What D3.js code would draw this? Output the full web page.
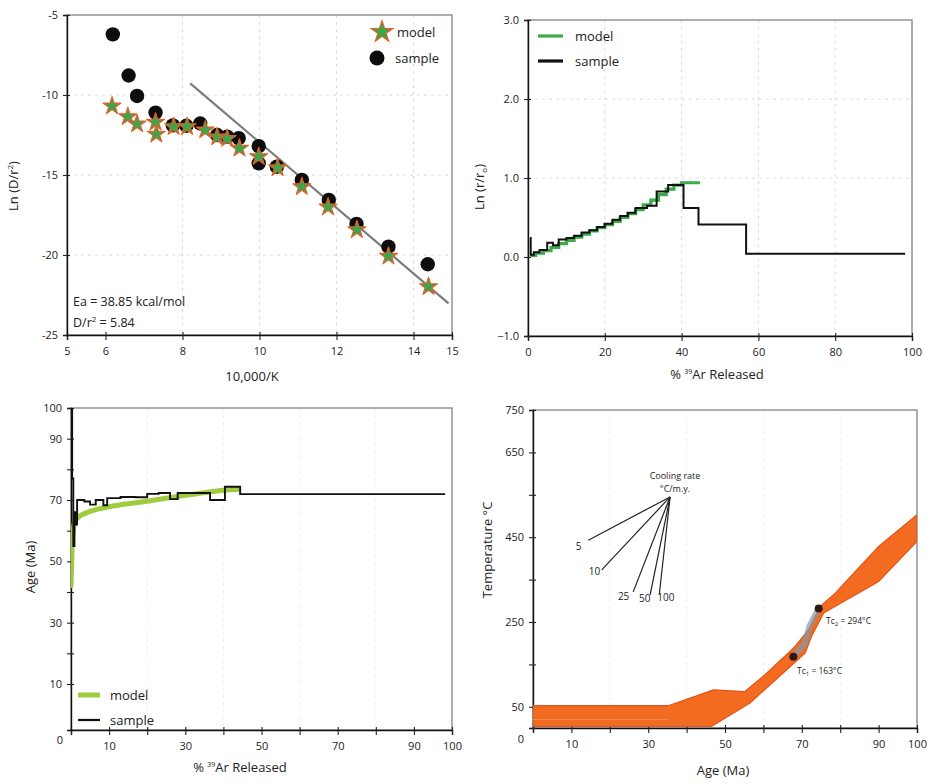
<!DOCTYPE html>
<html><head><meta charset="utf-8">
<script src="https://cdn.jsdelivr.net/npm/d3@7"></script>
<style>
body{margin:0;background:#fff}
svg{display:block}
text{font-family:"Open Sans","Noto Sans",sans-serif;fill:#222}
</style>
</head><body>
<svg width="931" height="784"></svg>
<script>
// ---------- Panel 1: Arrhenius ----------
const arrModelX  = [6.17,6.58,6.82,7.30,7.32,7.77,8.12,8.59,8.90,9.16,9.48,9.98,10.47,11.10,11.78,12.53,13.35,14.39];
const arrModelY  = [-10.69,-11.35,-11.81,-11.70,-12.45,-11.98,-11.98,-12.19,-12.62,-12.72,-13.33,-13.85,-14.55,-15.73,-17.0,-18.42,-20.08,-21.98];
const arrSampleX = [6.19,6.60,6.82,7.30,7.75,8.10,8.46,8.90,9.16,9.46,9.98,9.98,10.45,11.10,11.80,12.52,13.35,14.37];
const arrSampleY = [-6.21,-8.78,-10.06,-11.10,-11.90,-11.92,-11.78,-12.50,-12.60,-12.70,-13.20,-14.27,-14.48,-15.31,-16.56,-18.06,-19.48,-20.58];
const arrFitX = [8.2,14.91];
const arrFitY = [-9.27,-23.02];
const arrXTicks = [5,6,8,10,12,14,15];
const arrYTicks = [-5,-10,-15,-20,-25];

// ---------- Panel 2: ln(r/r0) ----------
const radModelEdges = [0.5,2,4,6,8,10,12,14,16,18,20,22,24,26,28,30,32,34,36,38,40,44.8];
const radModelVals  = [0.02,0.05,0.08,0.12,0.17,0.21,0.25,0.29,0.33,0.37,0.41,0.45,0.50,0.55,0.60,0.66,0.72,0.79,0.86,0.91,0.94];
const radSampleEdges = [0.5,0.7,1.5,3,5,6.5,8,10,12,14,16,18,20,22,24,26,28,31,33.5,36.5,40.5,44.4,56.8,98.2];
const radSampleVals  = [0.24,0.03,0.06,0.09,0.18,0.15,0.22,0.24,0.27,0.31,0.34,0.38,0.42,0.47,0.52,0.56,0.62,0.65,0.83,0.91,0.62,0.41,0.04];
const radXTicks = [0,20,40,60,80,100];
const radYTicks = [-1,0,1,2,3];

// ---------- Panel 3: age spectrum ----------
const ageModelX = [0,0.3,0.6,1,2,4,7,10,15,20,25,30,35,40,44];
const ageModelY = [42,55,60,63,64.5,65.8,67,67.8,68.8,69.6,70.6,71.5,72.4,73.2,73.5];
const ageSampleEdges = [0,0.3,0.6,0.9,1.2,1.6,3.5,5,6.5,8.5,9.5,13,17,20,23,26,28,36.5,40.4,44.4,98.2];
const ageSampleVals  = [100,77,55,66,62,70,69.5,68.5,70,68.3,70.6,71,70.9,72,72.3,70.3,72.3,70,74.3,71.9];
const ageXTicks = [0,10,20,30,40,50,60,70,80,90,100];
const ageXLabels = [10,30,50,70,90,100];
const ageYTicks = [10,20,30,40,50,60,70,80,90,100];
const ageYLabels = [10,30,50,70,90,100];

// ---------- Panel 4: T-t envelope ----------
const envUpperX = [0,35.2,47,55.2,60.4,67.8,71.7,74.8,78.7,90,100];
const envUpperT = [52.6,52.6,90,86,125.6,188,231,287,318,428,503];
const envLowerX = [0,46.5,56.5,66.5,70.9,72.5,75.7,90,100];
const envLowerT = [4,4,59,141,177,215,271,345.5,440];
const innerX = [0,35];
const innerT = [20,20];
const tcPathX = [67.8,70.8,72.0,74.4];
const tcPathT = [168,200,240,282];
const tcPointX = [67.8,74.4];
const tcPointT = [168,282];
const coolHub = [35.7,545];
const coolEndX = [14.4,17.9,26.1,30.5,32.9];
const coolEndT = [443,373,321,314,316];
const coolLabels = ["5","10","25","50","100"];
const coolLabelX = [11.9,16.0,23.6,29.1,34.6];
const coolLabelT = [420,360,302,298,299];
const ttXTicks = [0,10,20,30,40,50,60,70,80,90,100];
const ttXLabels = [10,30,50,70,90,100];
const ttYTicks = [0,50,150,250,350,450,550,650,750];
const ttYLabels = [0,50,250,450,650,750];

const svg = d3.select("svg");
svg.append("rect").attr("width",931).attr("height",784).attr("fill","#fff");

function makePanel(c){
  const x = d3.scaleLinear().domain(c.xd).range([c.l,c.r]);
  const y = d3.scaleLinear().domain(c.yd).range([c.b,c.t]);
  const g = svg.append("g");
  const grid = g.append("g").attr("stroke",c.gridColor||"#dcdcdc").attr("stroke-dasharray","3,4").attr("stroke-width",1);
  (c.gx||[]).forEach(v=>grid.append("line").attr("x1",x(v)).attr("x2",x(v)).attr("y1",c.t).attr("y2",c.b));
  (c.gy||[]).forEach(v=>grid.append("line").attr("y1",y(v)).attr("y2",y(v)).attr("x1",c.l).attr("x2",c.r));
  g.append("rect").attr("x",c.l).attr("y",c.t).attr("width",c.r-c.l).attr("height",c.b-c.t)
    .attr("fill","none").attr("stroke","#8c8c8c").attr("stroke-width",1.4);
  const xa = g.append("g").attr("transform",`translate(0,${c.b})`)
    .call(d3.axisBottom(x).tickValues(c.xt).tickSize(5).tickPadding(7).tickFormat(d=>c.xl.includes(d)?c.xf(d):""));
  const ya = g.append("g").attr("transform",`translate(${c.l},0)`)
    .call(d3.axisLeft(y).tickValues(c.yt).tickSize(4).tickPadding(5).tickFormat(d=>c.yl.includes(d)?c.yf(d):""));
  [xa,ya].forEach(a=>{
    a.select(".domain").attr("stroke","#111").attr("stroke-width",1.4);
    a.selectAll(".tick line").attr("stroke","#222").attr("stroke-width",1.1);
    a.selectAll(".tick text").attr("font-family",'"Open Sans",sans-serif').attr("font-size",11).attr("fill","#222");
  });
  xa.selectAll(".tick line").attr("y1",-3);
  ya.selectAll(".tick line").attr("x1",3);
  return {x,y,g,xa,ya};
}

const clipId = (name,c)=>{
  svg.append("clipPath").attr("id",name).append("rect").attr("x",c.l).attr("y",c.t).attr("width",c.r-c.l).attr("height",c.b-c.t);
  return `url(#${name})`;
};

function stepPoints(edges, vals){
  const pts=[];
  vals.forEach((v,i)=>{pts.push([edges[i],v]);pts.push([edges[i+1],v]);});
  return pts;
}

// ================= Panel 1 =================
{
  const c={l:67,r:452,t:15,b:335,xd:[5,15],yd:[-25,-5],xt:arrXTicks,xl:arrXTicks,xf:d=>d,yt:arrYTicks,yl:arrYTicks,yf:d=>d,
    gx:[8,10,12,14],gy:[-10,-15,-20]};
  const P=makePanel(c);
  const {x,y,g}=P;
  g.append("line").attr("x1",x(arrFitX[0])).attr("y1",y(arrFitY[0])).attr("x2",x(arrFitX[1])).attr("y2",y(arrFitY[1]))
    .attr("stroke","#7b7b7b").attr("stroke-width",2.2);
  g.selectAll("circle.s").data(arrSampleX).join("circle").attr("class","s")
    .attr("cx",d=>x(d)).attr("cy",(d,i)=>y(arrSampleY[i])).attr("r",7.2).attr("fill","#0d0d0d");
  const star=d3.symbol().type(d3.symbolStar).size(100);
  g.selectAll("path.m").data(arrModelX).join("path").attr("class","m")
    .attr("d",star).attr("transform",(d,i)=>`translate(${x(d)},${y(arrModelY[i])})`)
    .attr("fill","#3fa548").attr("stroke","#ef5a28").attr("stroke-width",1.1).attr("stroke-linejoin","round");
  g.append("path").attr("d",d3.symbol().type(d3.symbolStar).size(150)()).attr("transform","translate(382,32)")
    .attr("fill","#3fa548").attr("stroke","#ef5a28").attr("stroke-width",1.1);
  g.append("text").attr("x",397).attr("y",36.5).attr("font-size",13).text("model");
  g.append("circle").attr("cx",377).attr("cy",58).attr("r",7.5).attr("fill","#0d0d0d");
  g.append("text").attr("x",395).attr("y",62.5).attr("font-size",13).text("sample");
  g.append("text").attr("x",73).attr("y",306).attr("font-size",12.5).text("Ea = 38.85 kcal/mol");
  const t2=g.append("text").attr("x",73).attr("y",327).attr("font-size",12.5);
  t2.append("tspan").text("D/r");
  t2.append("tspan").attr("font-size",8).attr("dy",-5).text("2");
  t2.append("tspan").attr("dy",5).text(" = 5.84");
  g.append("text").attr("x",252).attr("y",381).attr("text-anchor","middle").attr("font-size",13).text("10,000/K");
  const yt=g.append("text").attr("transform","translate(18,186) rotate(-90)").attr("text-anchor","middle").attr("font-size",13);
  yt.append("tspan").text("Ln (D/r");
  yt.append("tspan").attr("font-size",8).attr("dy",-5).text("2");
  yt.append("tspan").attr("dy",5).text(")");
}

// ================= Panel 2 =================
{
  const c={l:528,r:912,t:20,b:336,xd:[0,100],yd:[-1,3],xt:radXTicks,xl:radXTicks,xf:d=>d,yt:radYTicks,yl:radYTicks,yf:d3.format(".1f"),
    gx:[20,40,60,80],gy:[1,2]};
  const P=makePanel(c);
  const {x,y,g}=P;
  const line=d3.line().x(d=>x(d[0])).y(d=>y(d[1]));
  g.append("path").attr("d",line(stepPoints(radModelEdges,radModelVals))).attr("fill","none")
    .attr("stroke","#3daa4a").attr("stroke-width",3.2).attr("stroke-linejoin","miter");
  g.append("path").attr("d",line(stepPoints(radSampleEdges,radSampleVals))).attr("fill","none")
    .attr("stroke","#111").attr("stroke-width",2);
  g.append("line").attr("x1",538).attr("x2",563).attr("y1",36).attr("y2",36).attr("stroke","#3daa4a").attr("stroke-width",3.2);
  g.append("text").attr("x",575).attr("y",40.5).attr("font-size",13).text("model");
  g.append("line").attr("x1",538).attr("x2",563).attr("y1",61).attr("y2",61).attr("stroke","#111").attr("stroke-width",3.2);
  g.append("text").attr("x",575).attr("y",65.5).attr("font-size",13).text("sample");
  const xt=g.append("text").attr("x",717).attr("y",379).attr("text-anchor","middle").attr("font-size",13);
  xt.append("tspan").text("% ");
  xt.append("tspan").attr("font-size",7).attr("dy",-5).text("39");
  xt.append("tspan").attr("dy",5).text("Ar Released");
  const yt=g.append("text").attr("transform","translate(484,187) rotate(-90)").attr("text-anchor","middle").attr("font-size",13);
  yt.append("tspan").text("Ln (r/r");
  yt.append("tspan").attr("font-size",8).attr("dy",3).text("o");
  yt.append("tspan").attr("dy",-3).text(")");
}

// ================= Panel 3 =================
{
  const c={l:71,r:452,t:408,b:730,xd:[0,100],yd:[-5,100],xt:ageXTicks,xl:ageXLabels,xf:d=>d,yt:ageYTicks,yl:ageYLabels,yf:d=>d,
    gx:[20,40,60,80],gy:[],gridColor:"#eeeeee"};
  const P=makePanel(c);
  const {x,y,g}=P;
  const cp=clipId("clip3",c);
  const line=d3.line().x(d=>x(d[0])).y(d=>y(d[1]));
  g.append("path").attr("clip-path",cp).attr("d",d3.line().x(d=>x(d[0])).y(d=>y(d[1])).curve(d3.curveMonotoneX)(ageModelX.map((v,i)=>[v,ageModelY[i]])))
    .attr("fill","none").attr("stroke","#9fcb3c").attr("stroke-width",5).attr("stroke-linecap","round");
  g.append("path").attr("clip-path",cp).attr("d",line(stepPoints(ageSampleEdges,ageSampleVals))).attr("fill","none")
    .attr("stroke","#111").attr("stroke-width",1.9);
  g.append("text").attr("x",63).attr("y",744).attr("text-anchor","end").attr("font-size",11).text("0");
  g.append("line").attr("x1",78).attr("x2",100).attr("y1",695).attr("y2",695).attr("stroke","#9fcb3c").attr("stroke-width",5);
  g.append("text").attr("x",110).attr("y",699.5).attr("font-size",13).text("model");
  g.append("line").attr("x1",78).attr("x2",100).attr("y1",720).attr("y2",720).attr("stroke","#111").attr("stroke-width",2.2);
  g.append("text").attr("x",110).attr("y",724.5).attr("font-size",13).text("sample");
  const xt=g.append("text").attr("x",240).attr("y",772).attr("text-anchor","middle").attr("font-size",13);
  xt.append("tspan").text("% ");
  xt.append("tspan").attr("font-size",7).attr("dy",-5).text("39");
  xt.append("tspan").attr("dy",5).text("Ar Released");
  g.append("text").attr("transform","translate(35,567) rotate(-90)").attr("text-anchor","middle").attr("font-size",13).text("Age (Ma)");
}

// ================= Panel 4 =================
{
  const c={l:533,r:917,t:410,b:728,xd:[0,100],yd:[0,750],xt:ttXTicks,xl:ttXLabels,xf:d=>d,yt:ttYTicks,yl:ttYLabels,yf:d=>d,
    gx:[20,40,60,80],gy:[],gridColor:"#eeeeee"};
  const P=makePanel(c);
  const {x,y,g}=P;
  P.ya.selectAll(".tick").filter(d=>d===0).select("text").attr("dy","1.3em");
  const cp=clipId("clip4",c);
  const poly=[];
  envUpperX.forEach((v,i)=>poly.push([v,envUpperT[i]]));
  for(let i=envLowerX.length-1;i>=0;i--) poly.push([envLowerX[i],envLowerT[i]]);
  const line=d3.line().x(d=>x(d[0])).y(d=>y(d[1]));
  g.append("path").attr("clip-path",cp).attr("d",line(poly)+"Z").attr("fill","#f26b20").attr("stroke","#e0561b").attr("stroke-width",1.2);
  g.append("path").attr("d",line(innerX.map((v,i)=>[v,innerT[i]]))).attr("stroke","#f58b4a").attr("stroke-width",1.2).attr("fill","none");
  g.append("path").attr("d",line(tcPathX.map((v,i)=>[v,tcPathT[i]]))).attr("fill","none")
    .attr("stroke","#8497a8").attr("stroke-width",6).attr("stroke-opacity",0.7).attr("stroke-linecap","round").attr("stroke-linejoin","round");
  g.selectAll("circle.tc").data(tcPointX).join("circle").attr("class","tc")
    .attr("cx",d=>x(d)).attr("cy",(d,i)=>y(tcPointT[i])).attr("r",4).attr("fill","#2a1a12");
  coolEndX.forEach((v,i)=>{
    g.append("line").attr("x1",x(coolHub[0])).attr("y1",y(coolHub[1])).attr("x2",x(v)).attr("y2",y(coolEndT[i]))
      .attr("stroke","#222").attr("stroke-width",1.2);
    g.append("text").attr("x",x(coolLabelX[i])).attr("y",y(coolLabelT[i])).attr("text-anchor","middle").attr("font-size",10).text(coolLabels[i]);
  });
  g.append("text").attr("x",675).attr("y",479).attr("text-anchor","middle").attr("font-size",9).text("Cooling rate");
  g.append("text").attr("x",675).attr("y",492).attr("text-anchor","middle").attr("font-size",9).text("°C/m.y.");
  const t2=g.append("text").attr("x",826).attr("y",624).attr("font-size",8.5);
  t2.append("tspan").text("Tc");t2.append("tspan").attr("font-size",6).attr("dy",2).text("2");t2.append("tspan").attr("dy",-2).text(" = 294°C");
  const t1=g.append("text").attr("x",797).attr("y",674).attr("font-size",8.5);
  t1.append("tspan").text("Tc");t1.append("tspan").attr("font-size",6).attr("dy",2).text("1");t1.append("tspan").attr("dy",-2).text(" = 163°C");
  g.append("text").attr("x",723).attr("y",775).attr("text-anchor","middle").attr("font-size",13).text("Age (Ma)");
  g.append("text").attr("transform","translate(492,550) rotate(-90)").attr("text-anchor","middle").attr("font-size",13).text("Temperature °C");
}
</script>
</body></html>
